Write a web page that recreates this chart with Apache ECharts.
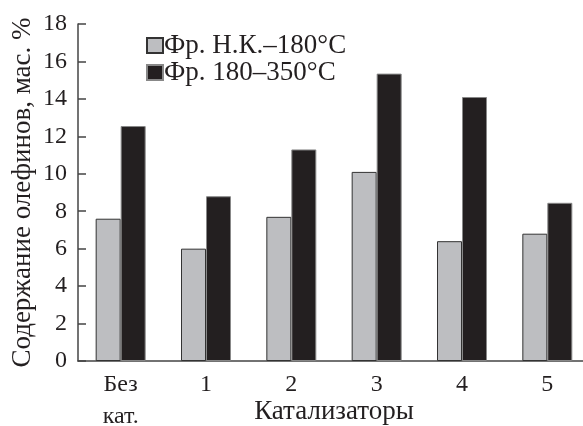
<!DOCTYPE html>
<html>
<head>
<meta charset="utf-8">
<script src="https://cdn.jsdelivr.net/npm/echarts@6/dist/echarts.min.js"></script>
<style>
  html, body { margin: 0; padding: 0; background: #fff; }
  #main { width: 583px; height: 426px; }
</style>
</head>
<body>
<div id="main"></div>
<script>
// chart data
var categories = ["Без\nкат.", "1", "2", "3", "4", "5"];
var lightValues = [7.6, 6.0, 7.7, 10.1, 6.4, 6.8];
var darkValues = [12.55, 8.8, 11.3, 15.35, 14.1, 8.45];
var seriesNames = ["Фр. Н.К.–180°C", "Фр. 180–350°C"];

var font = "'Liberation Serif', 'DejaVu Serif', serif";
var ink = "#231f20";

var myChart = echarts.init(document.getElementById("main"));
var option = {
  animation: false,
  textStyle: { fontFamily: font, color: ink },
  grid: { left: 78, top: 24, width: 512, bottom: 65, outerBoundsMode: "none", containLabel: false },
  legend: {
    left: 141,
    top: 27,
    orient: "vertical",
    itemWidth: 16,
    itemHeight: 15,
    itemGap: 0,
    icon: "rect",
    textStyle: { fontFamily: font, fontSize: 27, color: ink, padding: [0, 0, 0, -4] },
    data: seriesNames,
  },
  xAxis: {
    type: "category",
    data: categories,
    name: "Катализаторы",
    nameLocation: "middle",
    nameGap: 37,
    nameMoveOverlap: false,
    nameTextStyle: { fontFamily: font, fontSize: 27, color: ink },
    axisLine: { lineStyle: { color: "#444", width: 1.5 } },
    axisTick: { inside: true, length: 9, lineStyle: { color: "#444", width: 1.5 } },
    axisLabel: { fontFamily: font, fontSize: 24, color: ink, margin: 8, lineHeight: 32 },
  },
  yAxis: {
    type: "value",
    min: 0,
    max: 18,
    interval: 2,
    name: "Содержание олефинов, мас. %",
    nameLocation: "middle",
    nameGap: 42,
    nameMoveOverlap: false,
    nameTextStyle: { fontFamily: font, fontSize: 27, color: ink },
    splitLine: { show: false },
    axisLine: { show: true, lineStyle: { color: "#444", width: 1.5 } },
    axisTick: { show: true, inside: true, length: 8, lineStyle: { color: "#444", width: 1.5 } },
    axisLabel: { fontFamily: font, fontSize: 24, color: ink, margin: 11 },
  },
  series: [
    {
      name: seriesNames[0],
      type: "bar",
      data: lightValues,
      barWidth: 25,
      barGap: "0%",
      itemStyle: { color: "#bdbec1", borderColor: "#333", borderWidth: 1 },
    },
    {
      name: seriesNames[1],
      type: "bar",
      data: darkValues,
      barWidth: 25,
      barGap: "0%",
      itemStyle: { color: ink, borderColor: "#888", borderWidth: 1 },
    },
  ],
};
myChart.setOption(option);
</script>
</body>
</html>
